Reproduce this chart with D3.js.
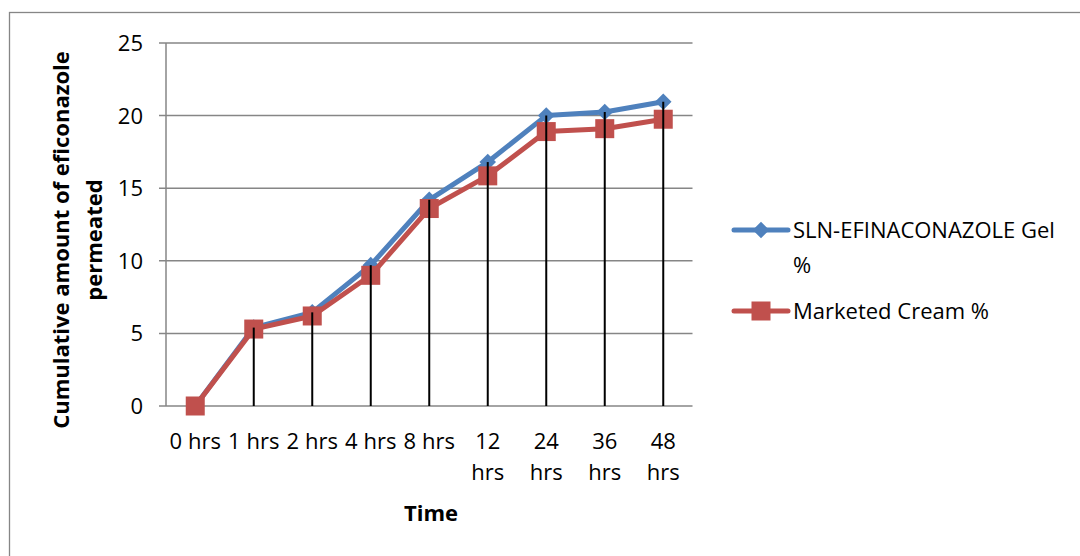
<!DOCTYPE html>
<html>
<head>
<meta charset="utf-8">
<title>Cumulative amount of eficonazole permeated</title>
<style>
  body { margin: 0; background: #fff; }
  text { font-family: 'Open Sans', 'Liberation Sans', sans-serif; fill: #000; }
</style>
</head>
<body>
<div id="chart"></div>
<script src="https://cdn.jsdelivr.net/npm/d3@7"></script>
<script>
var categories = ['0 hrs', '1 hrs', '2 hrs', '4 hrs', '8 hrs', '12 hrs', '24 hrs', '36 hrs', '48 hrs'];
var gelValues = [0, 5.4, 6.45, 9.7, 14.2, 16.8, 20.0, 20.25, 20.95];
var creamValues = [0, 5.3, 6.2, 9.0, 13.6, 15.85, 18.9, 19.1, 19.75];
var yTicks = [0, 5, 10, 15, 20, 25];
var seriesNames = ['SLN-EFINACONAZOLE Gel %', 'Marketed Cream %'];

(function() {
  'use strict';
  var width = 1080, height = 556;
  var left = 166, right = 692.5, top = 43, bottom = 406;
  var blue = '#4f81bd', red = '#c0504d', grid = '#868686';
  var fs = '22px';

  var svg = d3.select('#chart').append('svg')
    .attr('width', width).attr('height', height);

  // outer chart border (runs off the right and bottom edges)
  svg.append('rect')
    .attr('x', 9.5).attr('y', 12.5)
    .attr('width', 1200).attr('height', 700)
    .attr('fill', 'none').attr('stroke', grid).attr('stroke-width', 1.3);

  var x = d3.scaleBand().domain(categories).range([left, right]);
  var y = d3.scaleLinear().domain([0, 25]).range([bottom, top]);
  var cx = function(d) { return x(d) + x.bandwidth() / 2; };

  // gridlines
  svg.append('g').selectAll('line')
    .data(yTicks).enter().append('line')
    .attr('x1', left - 7).attr('x2', right)
    .attr('y1', function(d) { return y(d); })
    .attr('y2', function(d) { return y(d); })
    .attr('stroke', grid).attr('stroke-width', 1.5);

  // y axis line
  svg.append('line')
    .attr('x1', left).attr('x2', left)
    .attr('y1', top).attr('y2', bottom)
    .attr('stroke', grid).attr('stroke-width', 1.5);

  // y tick labels
  svg.append('g').selectAll('text')
    .data(yTicks).enter().append('text')
    .attr('x', 143).attr('y', function(d) { return y(d); })
    .attr('dy', '0.36em').attr('text-anchor', 'end')
    .style('font-size', fs)
    .text(function(d) { return d; });

  // x tick labels, two-digit hours wrap onto two lines
  var xl = svg.append('g').selectAll('text')
    .data(categories).enter().append('text')
    .attr('text-anchor', 'middle')
    .style('font-size', fs)
    .attr('x', function(d) { return cx(d); })
    .attr('y', 449);
  xl.each(function(d) {
    var t = d3.select(this);
    var parts = d.split(' ');
    if (parts[0].length > 1) {
      t.append('tspan').attr('x', cx(d)).attr('dy', 0).text(parts[0]);
      t.append('tspan').attr('x', cx(d)).attr('dy', 31).text(parts[1]);
    } else {
      t.text(d);
    }
  });

  var line = d3.line()
    .x(function(d, i) { return cx(categories[i]); })
    .y(function(d) { return y(d); });

  svg.append('path').datum(gelValues)
    .attr('d', line).attr('fill', 'none')
    .attr('stroke', blue).attr('stroke-width', 5).attr('stroke-linejoin', 'round');
  svg.append('g').selectAll('path')
    .data(gelValues).enter().append('path')
    .attr('d', d3.symbol().type(d3.symbolDiamond2).size(175)())
    .attr('transform', function(d, i) {
      return 'translate(' + cx(categories[i]) + ',' + y(d) + ')';
    })
    .attr('fill', blue);

  svg.append('path').datum(creamValues)
    .attr('d', line).attr('fill', 'none')
    .attr('stroke', red).attr('stroke-width', 5).attr('stroke-linejoin', 'round');
  svg.append('g').selectAll('rect')
    .data(creamValues).enter().append('rect')
    .attr('x', function(d, i) { return cx(categories[i]) - 9.5; })
    .attr('y', function(d) { return y(d) - 9.5; })
    .attr('width', 19).attr('height', 19)
    .attr('fill', red);

  // drop lines from the upper series down to the axis
  svg.append('g').selectAll('line')
    .data(categories.slice(1)).enter().append('line')
    .attr('x1', cx).attr('x2', cx)
    .attr('y1', bottom)
    .attr('y2', function(d) {
      var i = categories.indexOf(d);
      return y(Math.max(gelValues[i], creamValues[i]));
    })
    .attr('stroke', '#000').attr('stroke-width', 2);

  // axis titles
  svg.append('text')
    .attr('x', 431).attr('y', 521)
    .attr('text-anchor', 'middle')
    .style('font-size', fs).style('font-weight', 'bold')
    .text('Time');

  var yt = svg.append('text')
    .attr('transform', 'translate(69,240) rotate(-90)')
    .attr('text-anchor', 'middle')
    .style('font-size', fs).style('font-weight', 'bold');
  yt.append('tspan').attr('x', 0).attr('dy', 0).text('Cumulative amount of eficonazole');
  yt.append('tspan').attr('x', 0).attr('dy', 33).text('permeated');

  // legend
  var legendY = [230, 311];
  var colors = [blue, red];
  var lg = svg.append('g').selectAll('g')
    .data(seriesNames).enter().append('g')
    .attr('transform', function(d, i) { return 'translate(734,' + legendY[i] + ')'; });
  lg.append('line')
    .attr('x1', 0).attr('x2', 54).attr('y1', 0).attr('y2', 0)
    .attr('stroke', function(d, i) { return colors[i]; })
    .attr('stroke-width', 5).attr('stroke-linecap', 'round');
  lg.filter(function(d, i) { return i === 0; }).append('path')
    .attr('d', d3.symbol().type(d3.symbolDiamond2).size(175)())
    .attr('transform', 'translate(27,0)')
    .attr('fill', blue);
  lg.filter(function(d, i) { return i === 1; }).append('rect')
    .attr('x', 17.5).attr('y', -9.5).attr('width', 19).attr('height', 19)
    .attr('fill', red);
  lg.append('text')
    .attr('x', 59).attr('y', 0)
    .style('font-size', fs)
    .each(function(d, i) {
      var t = d3.select(this);
      if (i === 0) {
        t.append('tspan').attr('x', 59).attr('dy', '0.36em').text('SLN-EFINACONAZOLE Gel');
        t.append('tspan').attr('x', 59).attr('dy', 35).text('%');
      } else {
        t.attr('dy', '0.36em').text(d);
      }
    });
})();
</script>
</body>
</html>
